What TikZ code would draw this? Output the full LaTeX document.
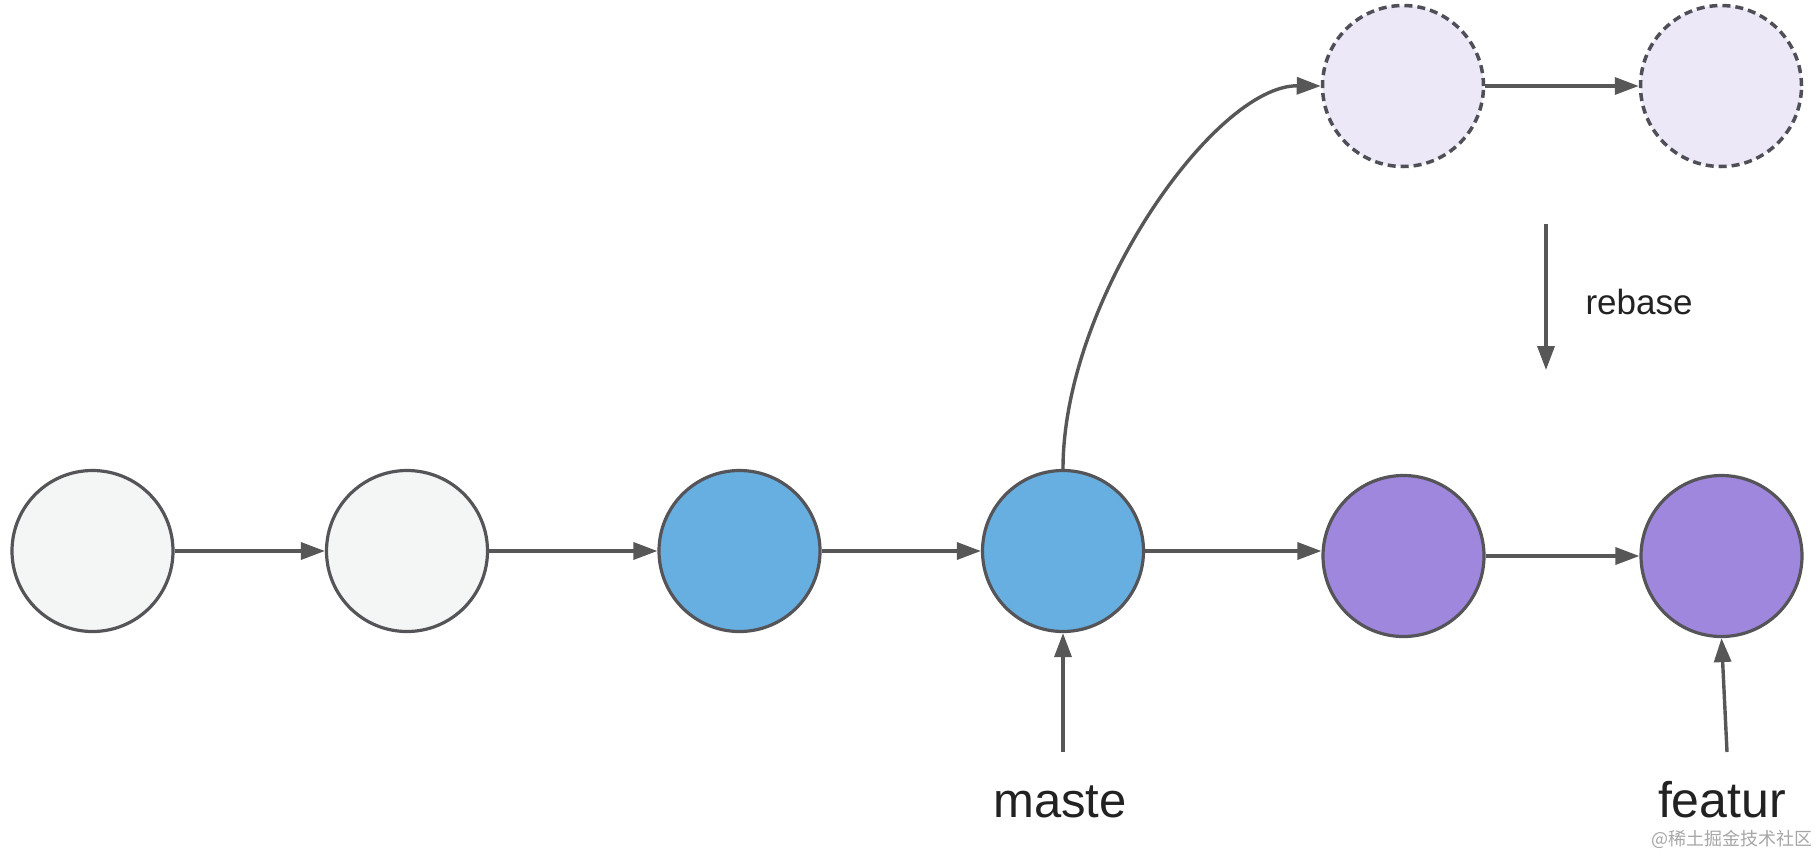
\documentclass[tikz,border=0pt]{standalone}
\usepackage{fontspec}
\setmainfont{Liberation Sans}
\newfontfamily\cjkfont{Noto Sans CJK SC}
\usetikzlibrary{arrows.meta}
\definecolor{strokec}{HTML}{555559}
\definecolor{arrowc}{HTML}{575757}
\definecolor{greyfill}{HTML}{F4F6F5}
\definecolor{bluefill}{HTML}{68AFE1}
\definecolor{purplefill}{HTML}{9F87DE}
\definecolor{ghostfill}{HTML}{ECE8F8}
\definecolor{ghoststroke}{HTML}{4F4F58}
\definecolor{textc}{HTML}{222222}
\tikzset{
  commit/.style={circle, minimum size=161pt, inner sep=0pt, line width=3.2pt, draw=strokec},
  oldc/.style={commit, fill=greyfill},
  bluec/.style={commit, fill=bluefill},
  purplec/.style={commit, fill=purplefill},
  ghostc/.style={commit, fill=ghostfill, draw=ghoststroke, line width=3.5pt, dash pattern=on 8pt off 5pt},
  link/.style={draw=arrowc, line width=3.4pt, -{Triangle[length=24pt,width=17pt]}},
  lbl/.style={text=textc, inner sep=0pt, anchor=base},
}
\begin{document}
\begin{tikzpicture}[x=1pt, y=-1pt]
\useasboundingbox (0,0) rectangle (1818,855);
\node[oldc]    (c1) at (92.5,551) {};
\node[oldc]    (c2) at (407,551) {};
\node[bluec]   (c3) at (739.5,551) {};
\node[bluec]   (c4) at (1063,551) {};
\node[purplec] (c5) at (1403.5,556) {};
\node[purplec] (c6) at (1721.5,556) {};
\node[ghostc]  (g1) at (1403,86) {};
\node[ghostc]  (g2) at (1721,86) {};

\draw[link] (c1.east) -- (c2.west);
\draw[link] (c2.east) -- (c3.west);
\draw[link] (c3.east) -- (c4.west);
\draw[link] (c4.east) -- (c4.east -| c5.west);
\draw[link] (c5.east) -- (c6.west);
\draw[link] (g1.east) -- (g2.west);
\draw[link] (c4.north) .. controls (1063,300) and (1215,85) .. (g1.west);

\coordinate (rb1) at (1546,224);
\coordinate (rb2) at (1546,370);
\draw[link] (rb1) -- (rb2);
\node[lbl, font=\fontsize{35}{40}\selectfont] (rebase) at (1639,314) {rebase};

\coordinate (m0) at (1063,752);
\draw[link] (m0) -- (c4.south);
\node[lbl, font=\fontsize{49}{56}\selectfont] (master) at (1060,817) {maste};

\coordinate (f0) at (1727,752);
\draw[link] (f0) -- (c6.south);
\node[lbl, font=\fontsize{50}{56}\selectfont] (feature) at (1722,817) {featur};

\node[text=black!35, inner sep=0pt, font=\cjkfont\fontsize{18}{20}\selectfont] (wm) at (1732,839) {@稀土掘金技术社区};
\end{tikzpicture}
\end{document}
